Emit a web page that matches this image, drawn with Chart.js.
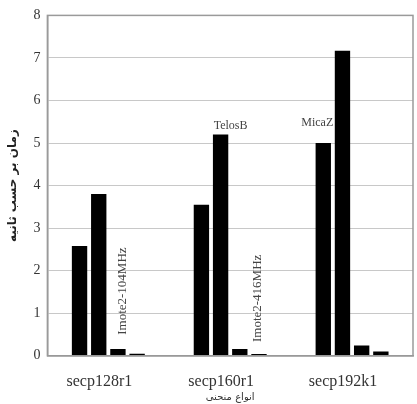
<!DOCTYPE html>
<html lang="fa">
<head>
    <meta charset="UTF-8">
    <title>secp curves</title>
    <script src="https://cdn.jsdelivr.net/npm/chart.js"></script>
    <style>
        html, body { margin: 0; padding: 0; background: #fff; }
        #wrap { width: 417px; height: 404px; }
    </style>
</head>
<body>
    <div id="wrap"><canvas id="chart"></canvas></div>
    <script>
        const curves = ['secp128r1', 'secp160r1', 'secp192k1'];
        const motes = ['MicaZ', 'TelosB', 'Imote2-104MHz', 'Imote2-416MHz'];
        const micaz = [2.58, 3.55, 5.0];
        const telosb = [3.8, 5.2, 7.17];
        const imote104 = [0.16, 0.16, 0.24];
        const imote416 = [0.05, 0.04, 0.1];
        const yTicks = [0, 1, 2, 3, 4, 5, 6, 7, 8];

        const serif = '"Liberation Serif", "DejaVu Serif", serif';

        // mote names written inside the plot, next to the bars they belong to
        const noteLabels = [
            { text: 'TelosB', ds: 1, cat: 1, dx: 10, y: 5.4, rotate: false },
            { text: 'MicaZ', ds: 0, cat: 2, dx: -6, y: 5.47, rotate: false },
            { text: 'Imote2-104MHz', ds: 2, cat: 0, dx: 5, y: 1.52, rotate: true },
            { text: 'Imote2-416MHz', ds: 3, cat: 1, dx: -1, y: 1.35, rotate: true }
        ];

        const frame = {
            id: 'frame',
            afterDraw(chart) {
                const c = chart.ctx, a = chart.chartArea;
                c.save();
                c.strokeStyle = '#9a9a9a';
                c.lineWidth = 1.5;
                c.strokeRect(a.left, a.top, a.right - a.left, a.bottom - a.top);
                c.fillStyle = '#444';
                c.textAlign = 'center';
                c.textBaseline = 'middle';
                noteLabels.forEach(n => {
                    const bar = chart.getDatasetMeta(n.ds).data[n.cat];
                    const x = bar.x + n.dx;
                    const y = chart.scales.y.getPixelForValue(n.y);
                    c.save();
                    c.translate(x, y);
                    if (n.rotate) {
                        c.rotate(-Math.PI / 2);
                        c.font = '13px ' + serif;
                    } else {
                        c.font = '12px ' + serif;
                    }
                    c.fillText(n.text, 0, 0);
                    c.restore();
                });
                c.restore();
            }
        };

        const series = [micaz, telosb, imote104, imote416];

        new Chart(document.getElementById('chart'), {
            type: 'bar',
            data: {
                labels: curves,
                datasets: series.map((vals, i) => ({
                    label: motes[i],
                    data: vals,
                    backgroundColor: '#000',
                    borderWidth: 0,
                    categoryPercentage: 0.63,
                    barPercentage: 0.8
                }))
            },
            plugins: [frame],
            options: {
                responsive: true,
                maintainAspectRatio: false,
                animation: false,
                layout: { padding: { top: 7, right: 4, left: 6, bottom: 0 } },
                plugins: {
                    legend: { display: false },
                    tooltip: { enabled: false }
                },
                scales: {
                    x: {
                        grid: { display: false, drawTicks: false },
                        border: { color: '#9a9a9a', width: 1.5 },
                        ticks: {
                            color: '#333',
                            font: { family: serif, size: 16 },
                            labelOffset: -9,
                            padding: 16
                        },
                        title: {
                            display: true,
                            text: 'انواع منحنی',
                            color: '#333',
                            font: { family: '"DejaVu Sans", sans-serif', size: 10 },
                            padding: { top: -16, bottom: 1 }
                        }
                    },
                    y: {
                        min: 0,
                        max: 8,
                        afterBuildTicks: axis => { axis.ticks = yTicks.map(v => ({ value: v })); },
                        grid: {
                            color: '#c8c8c8',
                            lineWidth: 1,
                            drawTicks: false
                        },
                        border: { color: '#9a9a9a', width: 1.5 },
                        ticks: {
                            color: '#333',
                            font: { family: serif, size: 14 },
                            padding: 7
                        },
                        title: {
                            display: true,
                            text: 'زمان بر حسب ثانیه',
                            color: '#222',
                            font: { family: '"DejaVu Sans", sans-serif', size: 12, weight: 'bold' },
                            padding: { top: 0, bottom: 6 }
                        }
                    }
                }
            }
        });
    </script>
</body>
</html>
